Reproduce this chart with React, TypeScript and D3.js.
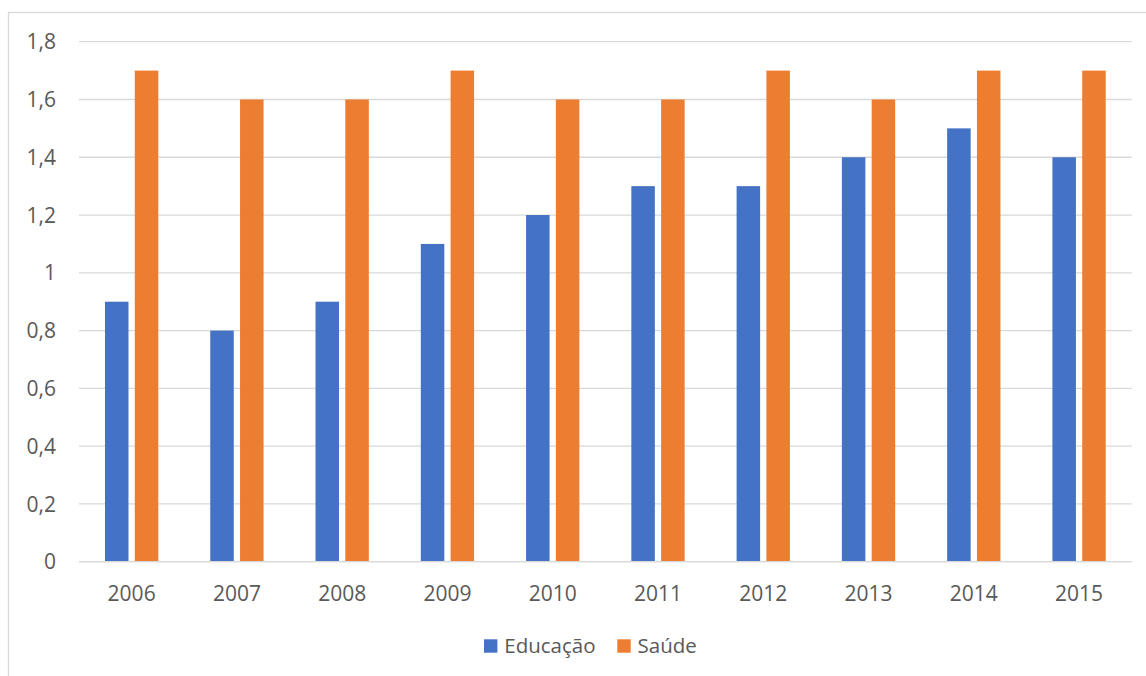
import React from "react";
import * as d3 from "d3";

const years = ["2006", "2007", "2008", "2009", "2010", "2011", "2012", "2013", "2014", "2015"];
const educacao = [0.9, 0.8, 0.9, 1.1, 1.2, 1.3, 1.3, 1.4, 1.5, 1.4];
const saude = [1.7, 1.6, 1.6, 1.7, 1.6, 1.6, 1.7, 1.6, 1.7, 1.7];
const seriesNames = ["Educação", "Saúde"];
const seriesColors = ["#4472C4", "#ED7D31"];
const yTicks = [0, 0.2, 0.4, 0.6, 0.8, 1, 1.2, 1.4, 1.6, 1.8];

const W = 1146;
const H = 676;
const plot = { left: 79, right: 1131.7, top: 41.7, bottom: 561.7 };
const FONT = "'Open Sans', 'Liberation Sans', sans-serif";
const TEXT = "#595959";
const GRID = "#D9D9D9";

const fmt = (v: number) => (Math.round(v * 10) / 10).toString().replace(".", ",");

export default function App() {
  const x0 = d3.scaleBand<string>().domain(years).range([plot.left, plot.right]).padding(0);
  const groupW = 53.3;
  const x1 = d3
    .scaleBand<string>()
    .domain(seriesNames)
    .range([0, groupW])
    .paddingInner(0.211)
    .paddingOuter(0);
  const y = d3.scaleLinear().domain([0, 1.8]).range([plot.bottom, plot.top]);
  const groupOffset = (x0.bandwidth() - groupW) / 2;

  const data = [educacao, saude];

  const legendItems = [
    { name: seriesNames[0], color: seriesColors[0], x: 484 },
    { name: seriesNames[1], color: seriesColors[1], x: 617.3 },
  ];

  return (
    <svg
      width={W}
      height={H}
      style={{ position: "absolute", left: 0, top: 0, background: "#fff" }}
      fontFamily={FONT}
    >
      <rect x={0} y={0} width={W} height={H} fill="#fff" />
      {/* chart frame */}
      <rect x={8.5} y={12.5} width={W + 20} height={H + 20} fill="none" stroke="#D9D9D9" strokeWidth={1.3} />

      {/* gridlines and y labels */}
      {yTicks.map((t) => (
        <g key={t}>
          <line
            x1={plot.left}
            x2={plot.right}
            y1={y(t)}
            y2={y(t)}
            stroke={GRID}
            strokeWidth={1.3}
          />
          <text x={56} y={y(t) + 7.6} textAnchor="end" fontSize={21} fill={TEXT}>
            {fmt(t)}
          </text>
        </g>
      ))}

      {/* bars */}
      {years.map((yr, i) => (
        <g key={yr} transform={`translate(${(x0(yr) ?? 0) + groupOffset},0)`}>
          {seriesNames.map((s, si) => {
            const v = data[si][i];
            return (
              <rect
                key={s}
                x={x1(s)}
                y={y(v)}
                width={x1.bandwidth()}
                height={y(0) - y(v)}
                fill={seriesColors[si]}
              />
            );
          })}
        </g>
      ))}

      {/* x axis line */}
      <line x1={plot.left} x2={plot.right} y1={y(0)} y2={y(0)} stroke={GRID} strokeWidth={1.3} />

      {/* x labels */}
      {years.map((yr) => (
        <text
          key={yr}
          x={(x0(yr) ?? 0) + x0.bandwidth() / 2}
          y={601}
          textAnchor="middle"
          fontSize={21}
          fill={TEXT}
        >
          {yr}
        </text>
      ))}

      {/* legend */}
      {legendItems.map((it) => (
        <g key={it.name}>
          <rect x={it.x} y={639.3} width={13.4} height={13.4} fill={it.color} />
          <text x={it.x + 20.3} y={652.7} fontSize={20.5} fill={TEXT}>
            {it.name}
          </text>
        </g>
      ))}
    </svg>
  );
}
